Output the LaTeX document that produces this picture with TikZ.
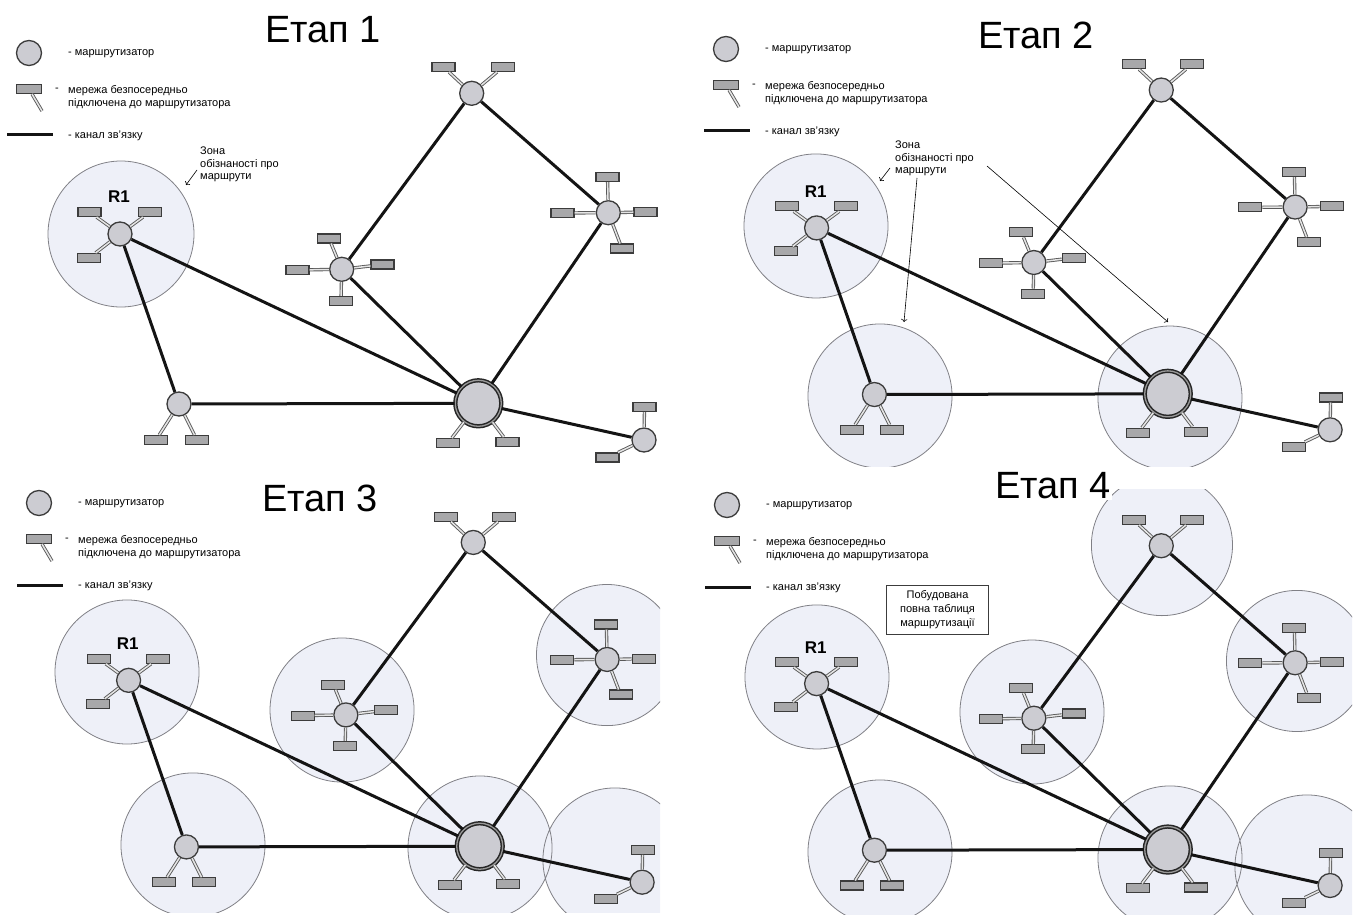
\documentclass[tikz,border=0pt]{standalone}
\usepackage{fontspec}
\setmainfont{Liberation Sans}
\usetikzlibrary{arrows.meta}
\definecolor{colZone}{RGB}{238,240,248}
\definecolor{colZoneLine}{RGB}{128,128,134}
\definecolor{colRouter}{RGB}{204,204,210}
\definecolor{colLan}{RGB}{168,168,170}
\definecolor{colEdge}{RGB}{60,60,60}

% a directly attached network: name, router, position
\newcommand{\lanat}[3]{%
  \node[lan] (#1) at (#3) {};
  \draw[stem] (#2) -- (#1);}

% legend of one stage (#1 = prefix of the names)
\newcommand{\keymap}[1]{%
  \node[router, minimum size=25pt] (#1krouter) at (29,53) {};
  \node[keytext] (#1ktext1) at (68,54) {- маршрутизатор};
  \node[lan, minimum width=25pt] (#1klan) at (29,89) {};
  \coordinate (#1klanend) at (42,111);
  \draw[stem] (#1klan) -- (#1klanend);
  \node[keytext] (#1kdash) at (55,89.5) {-};
  \node[keytext] (#1ktext2) at (68,97) {мережа безпосередньо\\підключена до маршрутизатора};
  \coordinate (#1klinel) at (7,135);
  \coordinate (#1kliner) at (53,135);
  \draw[link] (#1klinel) -- (#1kliner);
  \node[keytext] (#1ktext3) at (68,136) {- канал зв’язку};}

% routers, links and networks of one stage
\newcommand{\netmap}[1]{%
  \node[router] (#1r1) at (120,234) {};
  \node[router] (#1bl) at (179,404) {};
  \node[router] (#1ml) at (341.7,269.3) {};
  \node[router] (#1top) at (471.7,93.3) {};
  \node[router] (#1rt) at (608.3,212.7) {};
  \node[bigrouter] (#1big) at (478.3,403.3) {};
  \node[router] (#1br) at (644,440) {};
  \node[rname] (#1r1name) at (119,197) {R1};
  % links
  \draw[link] (#1r1) -- (#1bl);
  \draw[link] (#1r1) -- (#1big);
  \draw[link] (#1bl) -- (#1big);
  \draw[link] (#1ml) -- (#1top);
  \draw[link] (#1ml) -- (#1big);
  \draw[link] (#1top) -- (#1rt);
  \draw[link] (#1rt) -- (#1big);
  \draw[link] (#1big) -- (#1br);
  % networks
  \lanat{#1r1a}{#1r1}{89.5,212}
  \lanat{#1r1b}{#1r1}{150,212}
  \lanat{#1r1c}{#1r1}{89,258}
  \lanat{#1bla}{#1bl}{156,440}
  \lanat{#1blb}{#1bl}{197,440}
  \lanat{#1mla}{#1ml}{329,238.5}
  \lanat{#1mlb}{#1ml}{297.5,270}
  \lanat{#1mlc}{#1ml}{382.5,264.5}
  \lanat{#1mld}{#1ml}{341,301}
  \lanat{#1topa}{#1top}{443.5,67}
  \lanat{#1topb}{#1top}{503,67}
  \lanat{#1rta}{#1rt}{607.5,177}
  \lanat{#1rtb}{#1rt}{562.5,213}
  \lanat{#1rtc}{#1rt}{645.5,212}
  \lanat{#1rtd}{#1rt}{622,248.5}
  \lanat{#1biga}{#1big}{448,443}
  \lanat{#1bigb}{#1big}{507.5,442}
  \lanat{#1bra}{#1br}{644.5,407}
  \lanat{#1brb}{#1br}{607.5,457.5}}

\begin{document}
\begin{tikzpicture}[x=1pt, y=-1pt,
    router/.style={circle, draw=colEdge, line width=1.3pt, fill=colRouter, minimum size=24pt, inner sep=0pt},
    bigrouter/.style={router, draw=black!85, line width=1.5pt, double=black!40, double distance=1.3pt, minimum size=46pt},
    lan/.style={rectangle, draw=colEdge, line width=1.1pt, fill=colLan, minimum width=23pt, minimum height=9pt, inner sep=0pt},
    stem/.style={draw=black!65, line width=0.9pt, double=black!10, double distance=1.5pt},
    link/.style={draw=black!92, line width=3pt},
    zone/.style={fill=colZone, draw=colZoneLine, line width=0.8pt},
    rname/.style={font=\fontsize{17}{17}\selectfont\bfseries, inner sep=0pt},
    keytext/.style={font=\fontsize{11}{13.3}\selectfont, anchor=west, align=left, inner sep=0pt},
    note/.style={font=\fontsize{11}{12.5}\selectfont, anchor=north west, align=left, inner sep=0pt},
    stage/.style={font=\fontsize{38}{40}\selectfont, inner sep=1pt},
    pointer/.style={->, line width=0.6pt}
]
    \useasboundingbox (0,0) rectangle (1355,915);

    % Етап 1 -- only R1 knows its own networks
    \node[stage] (t1) at (323,30) {Етап 1};
    \keymap{a}
    \path[zone] (121,234) circle (73);
    \netmap{a}
    \node[note] (anote) at (200,147) {Зона\\обізнаності про\\маршрути};
    \coordinate (aptail) at (197,170);
    \coordinate (aphead) at (186,185);
    \draw[pointer] (aptail) -- (aphead);

    % Етап 2 -- neighbours are known
    \node[stage] (t2) at (1036,35) {Етап 2};
    \begin{scope}[shift={(697,-4)}]
        \keymap{b}
    \end{scope}
    \begin{scope}
        \clip (680,0) rectangle (1355,466);
        \begin{scope}[shift={(699,-1.4)}, scale=0.98]
            \path[zone] (119.4,232) circle (73.5) (184.7,405.5) circle (73.5)
                (480.6,407.6) circle (73.5);
            \netmap{b}
        \end{scope}
    \end{scope}
    \node[note] (bnote) at (895,141) {Зона\\обізнаності про\\маршрути};
    \coordinate (bptail1) at (890,168);
    \coordinate (bphead1) at (880,181);
    \coordinate (bptail2) at (917,178);
    \coordinate (bphead2) at (904,322);
    \coordinate (bptail3) at (987,166);
    \coordinate (bphead3) at (1168,322);
    \draw[pointer] (bptail1) -- (bphead1);
    \draw[pointer] (bptail2) -- (bphead2);
    \draw[pointer] (bptail3) -- (bphead3);

    % Етап 3
    \node[stage] (t3) at (320,498) {Етап 3};
    \begin{scope}[shift={(10,450)}]
        \keymap{c}
    \end{scope}
    \begin{scope}
        \clip (0,468) rectangle (660,912);
        \begin{scope}[shift={(11,451)}, scale=0.98]
            \path[zone] (118.4,225.5) circle (73.5) (337.8,264.3) circle (73.5)
                (608.2,208.2) circle (72) (185.7,402) circle (73.5)
                (478.6,405.1) circle (73.5) (616.3,417.3) circle (73.5);
            \netmap{c}
        \end{scope}
    \end{scope}

    % Етап 4 -- every router knows the whole map
    \begin{scope}[shift={(698,452)}]
        \keymap{d}
    \end{scope}
    \begin{scope}
        \clip (680,489) rectangle (1352,915);
        \begin{scope}[shift={(699,454.3)}, scale=0.98]
            \path[zone] (472.4,92.6) circle (72) (610.2,210.9) circle (72)
                (339.8,263) circle (73.5) (120.4,227.2) circle (73.5)
                (184.7,405.8) circle (73.5) (480.6,411.9) circle (73.5)
                (620.4,421.1) circle (73.5);
            \netmap{d}
        \end{scope}
    \end{scope}
    \node[stage, fill=white] (t4) at (1053,486) {Етап 4};
    \node[draw=colEdge, line width=1pt, font=\fontsize{11}{14}\selectfont, align=center,
        minimum width=102pt, minimum height=49pt, inner sep=2pt] (dtable) at (937.5,609.5)
        {Побудована\\повна таблиця\\маршрутизації};
\end{tikzpicture}
\end{document}
